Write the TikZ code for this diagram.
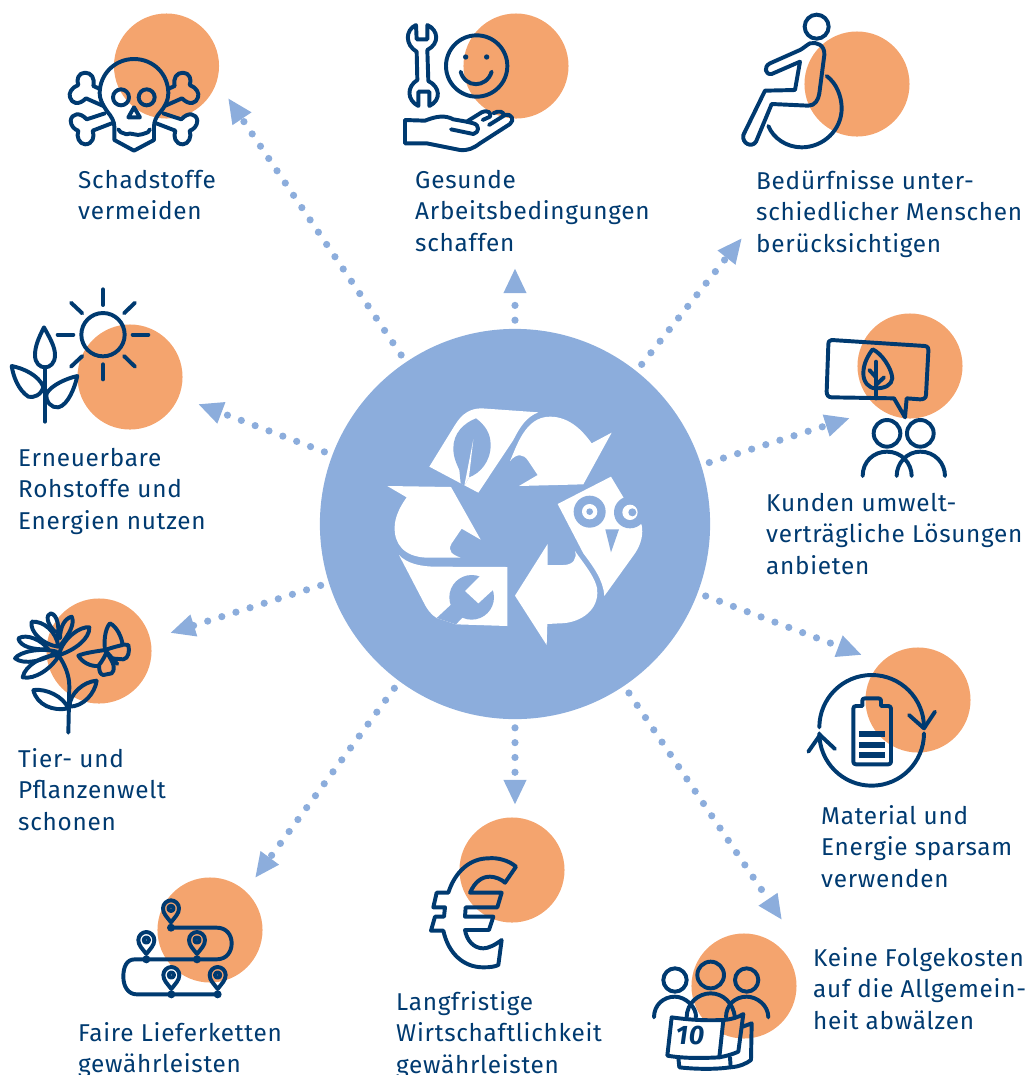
\documentclass[tikz,border=0pt]{standalone}
\usepackage{fontspec}
\setmainfont{Fira Sans}[LetterSpace=3]
\usepackage{tikz}
\usetikzlibrary{arrows.meta}
\definecolor{navy}{HTML}{003A70}
\definecolor{skyblue}{HTML}{8CADDC}
\definecolor{peach}{HTML}{F4A46E}
\tikzset{
    blob/.style={shape=circle, fill=peach, minimum size=1.05cm, inner sep=0pt},
    hub/.style={shape=circle, fill=skyblue, minimum size=3.9cm, inner sep=0pt},
    flow/.style={draw=skyblue, line width=0.072cm, line cap=round, dash pattern=on 0pt off 0.148cm,
        shorten <=0.08cm, -{Triangle[length=0.25cm, width=0.21cm]}},
    caption/.style={anchor=north west, inner sep=0pt, align=left, text=navy, font=\fontsize{6.92}{8.96}\selectfont},
    icon/.style={draw=navy, line width=1.12pt, line cap=round, line join=round},
    paper/.style={fill=white},
    back/.style={fill=skyblue},
    mappin/.pic={
        \draw[icon] (0,0) .. controls (-12,-16) and (-24,-26) .. (-24,-42) .. controls (-24,-56) and (-12,-66) .. (0,-66)
            .. controls (12,-66) and (24,-56) .. (24,-42) .. controls (24,-26) and (12,-16) .. (0,0) -- cycle;
        \draw[icon] (0,-42) circle (8);
    }
}

\begin{document}
\begin{tikzpicture}[x=0.01cm, y=-0.01cm]

            \useasboundingbox (0,0) rectangle (1030,1075);

            \node[blob] (blobA) at (166.5,66) {};
            \node[blob] (blobB) at (516,66) {};
            \node[blob] (blobC) at (857,84) {};
            \node[blob] (blobD) at (910,366) {};
            \node[blob] (blobE) at (918,700) {};
            \node[blob] (blobF) at (744,986) {};
            \node[blob] (blobG) at (512,870) {};
            \node[blob] (blobH) at (210,930) {};
            \node[blob] (blobI) at (99,651) {};
            \node[blob] (blobJ) at (130,377) {};
            \node[hub] (hub) at (515,524) {};

            \coordinate (tipA) at (228,98);
            \coordinate (tipB) at (515,268);
            \coordinate (tipC) at (742,238);
            \coordinate (tipD) at (850,418);
            \coordinate (tipE) at (862,655);
            \coordinate (tipF) at (782,920);
            \coordinate (tipG) at (515,805);
            \coordinate (tipH) at (255,878);
            \coordinate (tipI) at (170,633);
            \coordinate (tipJ) at (198,404);

            \draw[flow] (hub) -- (tipA);
            \draw[flow] (hub) -- (tipB);
            \draw[flow] (hub) -- (tipC);
            \draw[flow] (hub) -- (tipD);
            \draw[flow] (hub) -- (tipE);
            \draw[flow] (hub) -- (tipF);
            \draw[flow] (hub) -- (tipG);
            \draw[flow] (hub) -- (tipH);
            \draw[flow] (hub) -- (tipI);
            \draw[flow] (hub) -- (tipJ);

            % recycling sign
            \begin{scope}[shift={(370,390)}, scale=1/3]
                \fill[paper] (178,230) -- (255,105) .. controls (275,72) and (300,55) .. (335,55) -- (505,67)
                    .. controls (470,80) and (450,110) .. (430,150) -- (325,308) -- cycle;
                \fill[back] (318,85) .. controls (280,100) and (250,130) .. (250,175) .. controls (250,205) and (262,225) .. (268,240)
                    -- (272,280) -- (283,287) -- (297,262) .. controls (330,250) and (362,215) .. (362,165)
                    .. controls (362,130) and (345,105) .. (318,85) -- cycle;
                \fill[paper] (310,148) -- (283,287) -- (297,262) -- cycle;
                \fill[paper] (420,213) .. controls (440,170) and (465,80) .. (540,80) .. controls (600,80) and (640,125) .. (665,160)
                    -- (725,128) -- (640,283) -- (447,288) -- (503,255) -- (475,213) .. controls (460,190) and (440,190) .. (420,213) -- cycle;
                \fill[paper] (52,288) -- (243,291) -- (332,449) -- (275,416) -- (245,460) .. controls (230,485) and (250,495) .. (272,503)
                    -- (170,503) .. controls (100,500) and (72,460) .. (74,410) .. controls (75,380) and (90,350) .. (110,322) -- cycle;
                \fill[paper] (87,495) .. controls (110,520) and (150,530) .. (200,530) -- (412,531) -- (412,708) -- (258,703) -- (200,684)
                    .. controls (185,675) and (172,660) .. (160,635) -- cycle;
                \fill[back] (305,622) circle (67);
                \fill[back] (200,684) -- (242,645) -- (285,675) -- (258,703) -- cycle;
                \fill[paper] (330,558) -- (285,603) -- (325,640) -- (372,597) -- (385,570) -- (345,545) -- cycle;
                \fill[paper] (435,617) -- (533,462) -- (533,525) -- (580,525) .. controls (610,525) and (622,505) .. (615,483)
                    .. controls (640,520) and (685,570) .. (682,610) .. controls (680,670) and (620,700) .. (570,700)
                    -- (532,702) -- (530,765) -- cycle;
                \fill[paper] (563,342) -- (723,260) -- (765,330) -- (815,405) .. controls (820,430) and (815,460) .. (795,490)
                    -- (703,618) .. controls (700,570) and (670,530) .. (640,490) -- cycle;
                \fill[back] (659,365) circle (48);
                \fill[paper] (659,365) circle (23);
                \fill[back] (659,365) circle (10);
                \fill[back] (780,367) circle (48);
                \fill[paper] (780,367) circle (23);
                \fill[back] (787,367) circle (12);
                \fill[back] (706,418) -- (747,418) -- (723,487) -- cycle;
            \end{scope}

            % skull
            \begin{scope}[shift={(50,0)}, scale=1/3]
                \draw[icon] (172,335) .. controls (155,310) and (149,295) .. (149,280) .. controls (149,222) and (195,177) .. (252,177)
                    .. controls (310,177) and (355,222) .. (355,280) .. controls (355,300) and (345,320) .. (332,335)
                    .. controls (318,350) and (312,365) .. (312,380) -- (312,420) -- (252,452) -- (193,420) -- (193,380)
                    .. controls (193,365) and (185,350) .. (172,335) -- cycle;
                \draw[icon] (205,388) .. controls (215,405) and (222,395) .. (230,403) .. controls (240,395) and (262,410) .. (275,403)
                    .. controls (285,395) and (292,405) .. (300,388);
                \draw[icon] (213,292) circle (24);
                \draw[icon] (290,292) circle (24);
                \draw[icon] (252,322) -- (235,352) -- (270,352) -- cycle;
                \draw[icon] (150,267) -- (130,258) .. controls (135,235) and (125,218) .. (105,218) .. controls (85,218) and (78,240) .. (85,255)
                    .. controls (65,262) and (55,280) .. (60,292) .. controls (65,310) and (85,318) .. (108,295) -- (160,318);
                \draw[icon] (165,340) -- (110,358) .. controls (90,335) and (65,340) .. (62,362) .. controls (62,378) and (75,390) .. (85,392)
                    .. controls (78,410) and (88,432) .. (105,433) .. controls (128,433) and (135,410) .. (128,392) -- (185,370);
                \begin{scope}[shift={(504,0)}, xscale=-1]
                    \draw[icon] (150,267) -- (130,258) .. controls (135,235) and (125,218) .. (105,218) .. controls (85,218) and (78,240) .. (85,255)
                        .. controls (65,262) and (55,280) .. (60,292) .. controls (65,310) and (85,318) .. (108,295) -- (160,318);
                    \draw[icon] (165,340) -- (110,358) .. controls (90,335) and (65,340) .. (62,362) .. controls (62,378) and (75,390) .. (85,392)
                        .. controls (78,410) and (88,432) .. (105,433) .. controls (128,433) and (135,410) .. (128,392) -- (185,370);
                \end{scope}
            \end{scope}

            % wrench, smile and hand
            \begin{scope}[shift={(390,0)}, scale=1/3]
                \draw[icon] (78,75) -- (80,118) -- (112,118) -- (112,75) .. controls (145,90) and (150,130) .. (112,150) -- (115,243)
                    .. controls (150,260) and (155,300) .. (118,318) -- (118,275) -- (85,275) -- (85,318) .. controls (50,300) and (50,260) .. (82,240)
                    -- (80,155) .. controls (45,135) and (45,90) .. (78,75) -- cycle;
                \draw[icon] (260,198) circle (92);
                \fill[navy] (227,171) circle (8);
                \fill[navy] (290,171) circle (8);
                \draw[icon] (212,215) .. controls (225,265) and (290,265) .. (305,215);
                \draw[icon] (45,360) -- (45,430) -- (110,430) -- (210,450) .. controls (235,452) and (250,445) .. (270,430) -- (360,372)
                    .. controls (375,360) and (365,340) .. (345,345);
                \draw[icon] (45,360) -- (105,362) .. controls (140,348) and (165,345) .. (190,358) -- (230,365) -- (275,337)
                    .. controls (295,328) and (305,340) .. (300,350) -- (278,360);
                \draw[icon] (183,388) -- (250,402) .. controls (268,398) and (270,375) .. (250,370) -- (230,365);
                \draw[icon] (297,375) -- (345,345);
                \draw[icon] (310,340) .. controls (325,330) and (345,335) .. (340,347);
            \end{scope}

            % wheelchair
            \begin{scope}[shift={(730,0)}, scale=1/3]
                \draw[icon] (260,80) circle (36);
                \draw[icon] (120,190) .. controls (100,200) and (105,225) .. (125,222) -- (210,185) -- (195,270) -- (105,272) -- (40,405)
                    .. controls (35,430) and (65,445) .. (78,425) -- (125,312) -- (235,317) .. controls (255,317) and (265,300) .. (268,280)
                    -- (283,165) .. controls (285,135) and (260,125) .. (240,130) .. controls (230,135) and (220,145) .. (210,150) -- cycle;
                \draw[icon] (290,228) .. controls (320,250) and (335,290) .. (335,325) .. controls (335,390) and (280,442) .. (215,442)
                    .. controls (170,442) and (130,415) .. (115,378);
            \end{scope}

            % speech bubble and two people
            \begin{scope}[shift={(810,320)}, scale=1/3]
                \draw[icon] (65,60) -- (345,78) .. controls (355,80) and (355,85) .. (355,95) -- (348,225) .. controls (348,235) and (340,238) .. (330,238)
                    -- (290,235) -- (285,292) -- (252,235) -- (65,232) .. controls (55,232) and (50,225) .. (50,215) -- (55,75)
                    .. controls (55,65) and (58,60) .. (65,60) -- cycle;
                \draw[icon] (188,88) .. controls (215,100) and (245,145) .. (247,175) .. controls (245,195) and (225,205) .. (198,205)
                    .. controls (175,205) and (160,185) .. (160,160) .. controls (160,130) and (175,105) .. (188,88) -- cycle;
                \draw[icon] (198,125) -- (198,235);
                \draw[icon] (178,150) -- (198,172);
                \draw[icon] (222,172) -- (198,195);
                \draw[icon] (231,340) circle (40);
                \draw[icon] (331,340) circle (40);
                \draw[icon] (158,468) .. controls (158,425) and (190,395) .. (231,395) .. controls (275,395) and (305,430) .. (305,468);
                \draw[icon] (260,468) .. controls (260,430) and (290,395) .. (331,395) .. controls (375,395) and (405,430) .. (405,468);
            \end{scope}

            % battery in a cycle
            \begin{scope}[shift={(800,650)}, scale=1/3]
                \draw[icon] (372,232) arc[start angle=0, end angle=-180, radius=157];
                \draw[icon] (372,250) arc[start angle=0, end angle=180, radius=157];
                \draw[icon] (327,195) -- (372,235) -- (405,185);
                \draw[icon] (25,305) -- (60,255) -- (105,297);
                \draw[icon] (187,168) -- (187,152) .. controls (187,147) and (190,145) .. (195,145) -- (235,145) .. controls (240,145) and (243,147) .. (243,152)
                    -- (243,168) -- (265,168) .. controls (270,168) and (273,171) .. (273,176) -- (273,335) .. controls (273,340) and (270,343) .. (265,343)
                    -- (168,343) .. controls (163,343) and (160,340) .. (160,335) -- (160,176) .. controls (160,171) and (163,168) .. (168,168) -- cycle;
                \fill[navy] (177,243) rectangle (255,261);
                \fill[navy] (177,275) rectangle (255,294);
                \fill[navy] (177,306) rectangle (255,325);
            \end{scope}

            % people with a calendar
            \begin{scope}[shift={(640,930)}, scale=1/3]
                \draw[icon] (105,150) circle (35);
                \draw[icon] (212,135) circle (40);
                \draw[icon] (320,150) circle (35);
                \draw[icon] (42,262) .. controls (42,225) and (70,200) .. (105,200) .. controls (135,200) and (170,230) .. (168,262);
                \draw[icon] (140,262) .. controls (140,220) and (175,190) .. (212,190) .. controls (250,190) and (280,220) .. (285,262);
                \draw[icon] (258,262) .. controls (258,225) and (285,200) .. (320,200) .. controls (350,200) and (385,225) .. (385,262);
                \draw[icon] (115,383) -- (118,412) .. controls (170,418) and (230,418) .. (270,412) .. controls (300,410) and (320,400) .. (333,390) -- (335,280) -- (308,290);
                \draw[icon] (270,382) -- (272,412);
                \draw[icon, paper] (95,262) .. controls (150,270) and (200,272) .. (250,270) -- (238,382) .. controls (180,385) and (130,385) .. (82,377) -- cycle;
                \draw[icon] (250,270) .. controls (275,268) and (295,262) .. (310,252) -- (295,365) .. controls (280,372) and (260,378) .. (238,382);
                \node[inner sep=0pt, text=navy, font=\fontsize{7.6}{8}\selectfont\bfseries\itshape] (tenyears) at (150,315) {10};
            \end{scope}

            % euro
            \begin{scope}[shift={(420,850)}, scale=1/3]
                \draw[icon] (288,50) .. controls (265,30) and (230,22) .. (205,25) .. controls (150,25) and (105,65) .. (85,128) -- (50,128) -- (40,172) -- (75,172)
                    -- (72,200) -- (45,200) -- (33,242) -- (70,242) .. controls (85,310) and (130,352) .. (190,352) .. controls (210,352) and (225,350) .. (235,345)
                    -- (245,270) .. controls (225,285) and (205,295) .. (190,295) .. controls (160,295) and (140,270) .. (135,240) -- (207,240) -- (220,200) -- (135,200)
                    -- (137,172) -- (232,172) -- (245,128) -- (150,128) .. controls (165,95) and (185,80) .. (210,80) .. controls (225,80) and (245,88) .. (255,98) -- cycle;
            \end{scope}

            % route with pins
            \begin{scope}[shift={(110,880)}, scale=1/3]
                \draw[icon] (183,143) -- (320,143) .. controls (350,143) and (365,165) .. (365,190) .. controls (365,215) and (350,238) .. (320,238) -- (75,238)
                    .. controls (50,238) and (40,260) .. (40,290) .. controls (40,320) and (55,343) .. (80,343) -- (323,343);
                \fill[navy] (183,143) circle (12);
                \fill[navy] (109,238) circle (12);
                \fill[navy] (261,238) circle (12);
                \fill[navy] (184,343) circle (12);
                \fill[navy] (323,343) circle (12);
                \pic[transform shape] at (183,127) {mappin};
                \pic[transform shape] at (109,222) {mappin};
                \pic[transform shape] at (261,222) {mappin};
                \pic[transform shape] at (184,327) {mappin};
                \pic[transform shape] at (323,327) {mappin};
            \end{scope}

            % flower and butterfly
            \begin{scope}[shift={(0,590)}, scale=1/3]
                \draw[icon] (205,428) -- (208,290) .. controls (208,255) and (195,225) .. (175,195);
                \draw[icon] (175,170) .. controls (130,165) and (88,125) .. (95,95) .. controls (130,92) and (170,125) .. (175,170);
                \draw[icon] (165,125) .. controls (138,100) and (138,72) .. (153,70) .. controls (172,75) and (180,110) .. (172,150);
                \draw[icon] (180,145) .. controls (180,110) and (195,85) .. (215,80) .. controls (225,100) and (210,130) .. (178,170);
                \draw[icon] (178,190) .. controls (190,145) and (240,108) .. (268,112) .. controls (270,145) and (225,180) .. (178,195);
                \draw[icon] (145,178) .. controls (100,180) and (60,170) .. (55,145) .. controls (80,130) and (125,150) .. (145,178);
                \draw[icon] (170,185) .. controls (120,172) and (60,185) .. (45,205) .. controls (70,225) and (130,215) .. (170,185);
                \draw[icon] (178,195) .. controls (130,195) and (75,225) .. (68,262) .. controls (105,270) and (155,235) .. (178,195);
                \draw[icon] (100,300) .. controls (140,295) and (190,320) .. (205,355) .. controls (160,365) and (110,345) .. (100,300);
                \draw[icon] (290,272) .. controls (250,275) and (210,310) .. (208,350) .. controls (250,350) and (285,310) .. (290,272);
                \draw[icon] (315,180) .. controls (310,140) and (320,110) .. (330,100) .. controls (350,110) and (365,140) .. (368,165) .. controls (345,170) and (330,175) .. (315,180);
                \draw[icon] (365,163) -- (385,165) .. controls (390,185) and (385,205) .. (370,208) -- (330,205);
                \draw[icon] (315,180) .. controls (280,185) and (250,190) .. (235,197) .. controls (245,215) and (270,230) .. (295,228) .. controls (305,215) and (315,200) .. (320,185);
                \draw[icon] (297,228) .. controls (298,245) and (300,252) .. (310,255) -- (335,250) .. controls (345,240) and (345,225) .. (325,195);
                \draw[icon] (315,180) -- (352,222);
            \end{scope}

            % sun and plant
            \begin{scope}[shift={(0,280)}, scale=1/3]
                \draw[icon] (309,164) circle (65);
                \draw[icon] (309,28) -- (309,75);
                \draw[icon] (309,253) -- (309,298);
                \draw[icon] (173,164) -- (220,164);
                \draw[icon] (398,164) -- (445,164);
                \draw[icon] (213,68) -- (247,100);
                \draw[icon] (405,68) -- (372,100);
                \draw[icon] (213,260) -- (247,228);
                \draw[icon] (405,260) -- (372,228);
                \draw[icon] (135,425) -- (135,262);
                \draw[icon] (132,142) .. controls (115,175) and (105,200) .. (105,225) .. controls (105,250) and (120,262) .. (135,262)
                    .. controls (150,262) and (165,250) .. (165,225) .. controls (165,200) and (150,175) .. (132,142) -- cycle;
                \draw[icon] (35,258) .. controls (70,265) and (115,285) .. (130,320) .. controls (125,345) and (100,355) .. (85,350) .. controls (55,330) and (40,290) .. (35,258) -- cycle;
                \draw[icon] (232,288) .. controls (200,295) and (155,315) .. (140,340) .. controls (135,365) and (155,385) .. (175,382) .. controls (205,375) and (225,320) .. (232,288) -- cycle;
            \end{scope}

            \node[caption] (textA) at (77.5,169.5) {Schadstoffe\\vermeiden};
            \node[caption] (textB) at (414.5,169.5) {Gesunde\\Arbeitsbedingungen\\schaffen};
            \node[caption] (textC) at (755.5,169.5) {Bedürfnisse unter-\\schiedlicher Menschen\\berücksichtigen};
            \node[caption] (textD) at (765.5,492.5) {Kunden umwelt-\\verträgliche Lösungen\\anbieten};
            \node[caption] (textE) at (820.5,804.5) {Material und\\Energie sparsam\\verwenden};
            \node[caption] (textF) at (812.5,946.5) {Keine Folgekosten\\auf die Allgemein-\\heit abwälzen};
            \node[caption] (textG) at (395.5,990.5) {Langfristige\\Wirtschaftlichkeit\\gewährleisten};
            \node[caption] (textH) at (77.5,1021.5) {Faire Lieferketten\\gewährleisten};
            \node[caption] (textI) at (17.5,747.5) {Tier- und\\Pflanzenwelt\\schonen};
            \node[caption] (textJ) at (17.5,447.5) {Erneuerbare\\Rohstoffe und\\Energien nutzen};

        \end{tikzpicture}
\end{document}
